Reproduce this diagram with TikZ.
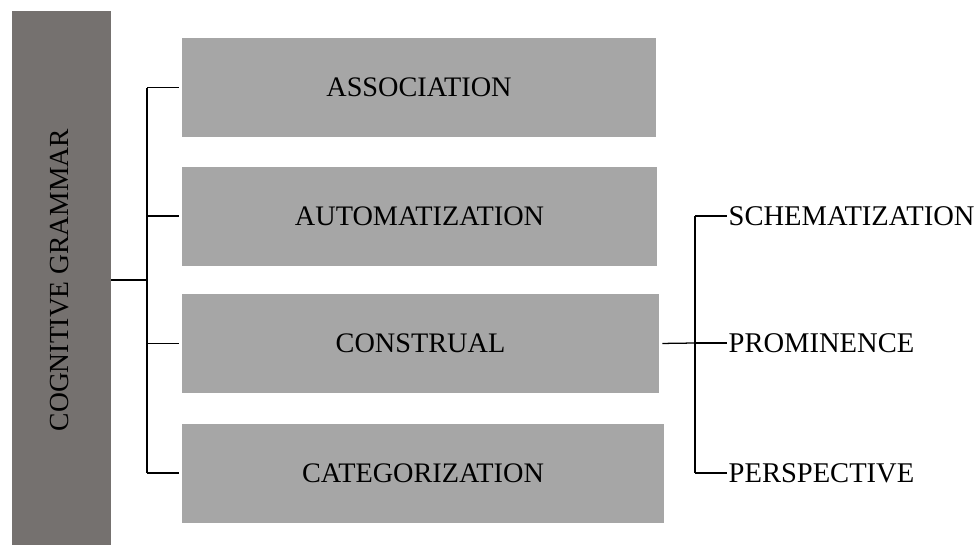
\documentclass[tikz,border=0pt]{standalone}
\usepackage{fontspec}
\setmainfont{Liberation Serif}
\usetikzlibrary{positioning}
\definecolor{bardark}{HTML}{75716F}
\definecolor{boxgray}{HTML}{A6A6A6}

\begin{document}
\begin{tikzpicture}[
    x=0.025cm, y=-0.025cm,
    root/.style={rectangle, fill=bardark, minimum width=99*0.025cm, minimum height=534*0.025cm, inner sep=0pt},
    box/.style={rectangle, fill=boxgray, minimum height=99*0.025cm, inner sep=0pt, font=\fontsize{20.1}{24}\selectfont},
    leaf/.style={anchor=west, inner sep=1pt, font=\fontsize{20.3}{24}\selectfont},
    conn/.style={line width=0.9pt, black}
]
    \useasboundingbox (0,0) rectangle (978,545);

    \node[root] (cg) at (61.5,278) {};
    \node[rotate=90, font=\fontsize{19.6}{23}\selectfont] (cgt) at (60,280) {COGNITIVE GRAMMAR};

    \node[box, minimum width=474*0.025cm] (as) at (419,87.5)  {ASSOCIATION};
    \node[box, minimum width=475*0.025cm] (au) at (419.5,216) {AUTOMATIZATION};
    \node[box, minimum width=477*0.025cm] (co) at (420.5,343.5) {CONSTRUAL};
    \node[box, minimum width=482*0.025cm] (ca) at (423,473)  {CATEGORIZATION};

    \node[leaf] (sc) at (727,216) {SCHEMATIZATION};
    \node[leaf] (pr) at (727,343) {PROMINENCE};
    \node[leaf] (pe) at (727,473) {PERSPECTIVE};

    % left bracket
    \coordinate (lj) at (147,280);
    \draw[conn] (cg.east |- lj) -- (lj);
    \draw[conn] (lj |- as.west) -- (lj |- ca.west);
    \foreach \b in {as,au,co,ca}
        \draw[conn, shorten >=3*0.025cm] (lj |- \b.west) -- (\b.west);

    % right bracket
    \coordinate (rj) at (695,343);
    \draw[conn, shorten <=3*0.025cm] (co.east) -- (rj);
    \draw[conn] (rj |- sc.west) -- (rj |- pe.west);
    \foreach \t in {sc,pr,pe}
        \draw[conn] (rj |- \t.west) -- (\t.west);
\end{tikzpicture}
\end{document}
